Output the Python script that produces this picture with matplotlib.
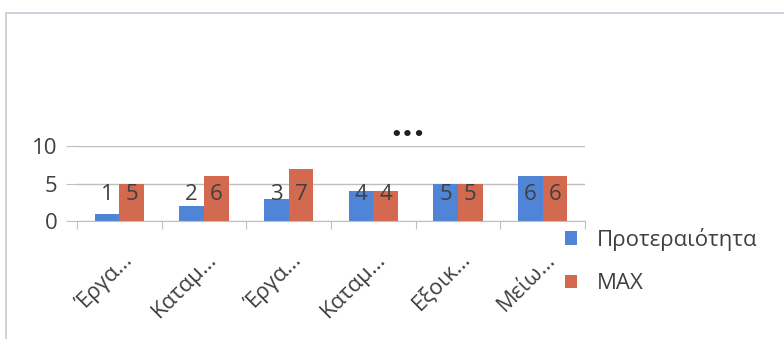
import matplotlib
matplotlib.use("Agg")
import matplotlib.pyplot as plt
import numpy as np
from matplotlib.patches import Rectangle
import matplotlib.transforms as mtransforms

categories = ["Έργα…", "Καταμ…", "Έργα…", "Καταμ…", "Εξοικ…", "Μείω…"]
priority = [1, 2, 3, 4, 5, 6]
max_vals = [5, 6, 7, 4, 5, 6]
series_names = ["Προτεραιότητα", "MAX"]
yticks = [0, 5, 10]

plt.rcParams['font.family'] = ['Open Sans', 'DejaVu Sans']

blue = "#4F84D6"
red = "#D3694F"
grid_c = "#BFBFBF"
txt_c = "#404040"

fig = plt.figure(figsize=(7.84, 3.39), dpi=100)
fig.patch.set_facecolor("white")
# outer chart frame
fig.patches.append(Rectangle((6/784, -0.2), 1.2, (339-13)/339 + 0.2, transform=fig.transFigure,
                             fill=False, edgecolor="#C3C9D6", linewidth=1.2))

ax = fig.add_axes([77/784, 118/339, (585-77)/784, 75/339])
x = np.arange(len(categories))
w = 0.29
b1 = ax.bar(x - w/2, priority, width=w, color=blue, label=series_names[0], zorder=3)
b2 = ax.bar(x + w/2, max_vals, width=w, color=red, label=series_names[1], zorder=3)

label_y = 3.5
for xi, v in zip(x - w/2, priority):
    ax.text(xi, label_y, str(v), ha="center", va="center", fontsize=16, color=txt_c, zorder=4)
for xi, v in zip(x + w/2, max_vals):
    ax.text(xi, label_y, str(v), ha="center", va="center", fontsize=16, color=txt_c, zorder=4)

ax.set_xlim(-0.5, len(categories) - 0.5)
ax.set_ylim(0, 10)
ax.set_yticks(yticks)
ax.yaxis.grid(True, color=grid_c, linewidth=1, zorder=0)
ax.tick_params(axis="y", length=8, color=grid_c, labelsize=16, labelcolor=txt_c, pad=6)
for s in ["top", "right", "left"]:
    ax.spines[s].set_visible(False)
ax.spines["bottom"].set_color(grid_c)
ax.spines["bottom"].set_zorder(5)

# category ticks at boundaries
ax.set_xticks(np.arange(len(categories) + 1) - 0.5, minor=False)
ax.set_xticklabels([])
ax.tick_params(axis="x", which="major", length=6, color=grid_c)
ax.set_xticks(x, minor=True)
ax.set_xticklabels(categories, minor=True, rotation=45, ha="right", va="top",
                   rotation_mode="anchor", fontsize=16, color=txt_c)
ax.tick_params(axis="x", which="minor", length=0, pad=20)
offset = mtransforms.ScaledTranslation(2/100, 0, fig.dpi_scale_trans)
for lbl in ax.get_xticklabels(minor=True):
    lbl.set_transform(lbl.get_transform() + offset)

fig.text(408/784, 1 - 135/339, "•••", ha="center", va="center", fontsize=13,
         fontweight="bold", color="#202020", family=["DejaVu Sans"])

leg = ax.legend(handles=[b1, b2], labels=series_names, loc="upper left",
                bbox_to_anchor=(545/784, 1 - 208/339), bbox_transform=fig.transFigure,
                frameon=False, fontsize=16, handlelength=0.55, handleheight=0.55,
                handletextpad=0.9, labelspacing=1.0, labelcolor=txt_c)

fig.savefig("out.png", dpi=100)
